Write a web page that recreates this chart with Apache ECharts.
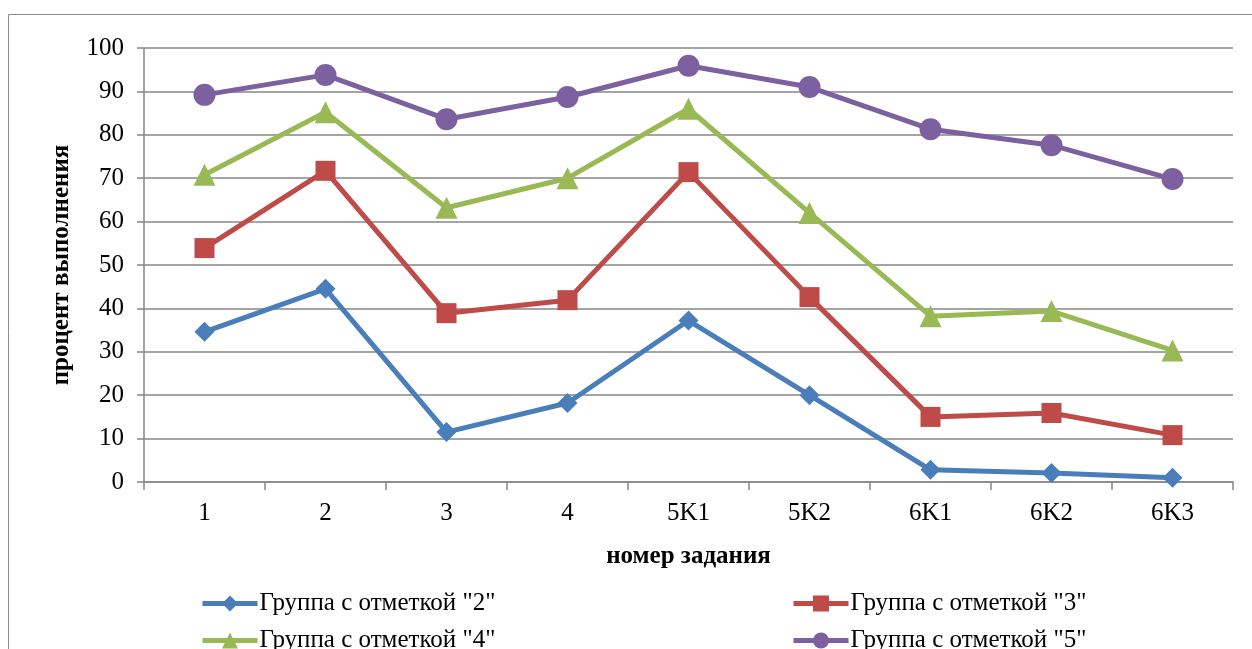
<!DOCTYPE html>
<html><head><meta charset="utf-8">
<script src="https://cdn.jsdelivr.net/npm/echarts@6/dist/echarts.min.js"></script>
<style>html,body{margin:0;padding:0;background:#fff}#c{width:1252px;height:649px}</style>
</head><body><div id="c"></div>
<script>
const categories = ['1','2','3','4','5K1','5K2','6K1','6K2','6K3'];
const yTicks = [0,10,20,30,40,50,60,70,80,90,100];
const seriesNames = ['Группа с отметкой "2"','Группа с отметкой "3"','Группа с отметкой "4"','Группа с отметкой "5"'];
const group2 = [34.6, 44.5, 11.5, 18.2, 37.2, 20.0, 2.8, 2.1, 1.0];
const group3 = [53.9, 71.7, 38.9, 41.9, 71.4, 42.6, 15.0, 15.9, 10.8];
const group4 = [70.8, 85.2, 63.2, 70.0, 86.0, 62.0, 38.2, 39.4, 30.3];
const group5 = [89.2, 93.8, 83.6, 88.7, 95.9, 91.0, 81.3, 77.6, 69.8];

const colors = ['#4A7EBB','#BE4B48','#98B954','#7D60A0'];
const symbols = ['diamond','rect','triangle','circle'];
const symbolSizes = [20, 20, 22, 22];
const datas = [group2, group3, group4, group5];
const font = '"Liberation Serif", "Times New Roman", serif';

const chart = echarts.init(document.getElementById('c'));
const legendPos = [[195,586],[786,586],[195,623],[786,623]];
chart.setOption({
  animation: false,
  backgroundColor: '#fff',
  graphic: [{type:'rect', shape:{x:8.5,y:14.5,width:1400,height:800}, style:{fill:'none', stroke:'#8c8c8c', lineWidth:1}, silent:true}],
  grid: {left:144, right:19, top:48, bottom:167},
  legend: seriesNames.map((n,i)=>({
    data:[n], left:legendPos[i][0], top:legendPos[i][1], itemWidth:55, itemHeight:20, itemGap:0,
    lineStyle:{width:5},
    textStyle:{fontFamily:font, fontSize:25, color:'#000', padding:[0,0,0,-3]}
  })),
  xAxis: {
    type:'category', data:categories, boundaryGap:true,
    name:'номер задания', nameLocation:'middle', nameGap:62,
    nameTextStyle:{fontFamily:font, fontSize:25, fontWeight:'bold', color:'#000'},
    axisLine:{lineStyle:{color:'#868686', width:1.5}},
    axisTick:{show:true, length:8, lineStyle:{color:'#868686', width:1.5}},
    axisLabel:{fontFamily:font, fontSize:25, color:'#000', margin:19}
  },
  yAxis: {
    type:'value', min:0, max:100, interval:10,
    name:'процент выполнения', nameLocation:'middle', nameGap:70, nameRotate:90,
    nameTextStyle:{fontFamily:font, fontSize:25, fontWeight:'bold', color:'#000'},
    axisLine:{show:true, lineStyle:{color:'#868686', width:1.5}},
    axisTick:{show:true, length:7, lineStyle:{color:'#868686', width:1.5}},
    axisLabel:{fontFamily:font, fontSize:25, color:'#000', margin:20},
    splitLine:{lineStyle:{color:'#868686', width:1.5}}
  },
  series: datas.map((d,i)=>({
    name:seriesNames[i], type:'line', data:d,
    symbol:symbols[i], symbolSize:symbolSizes[i],
    lineStyle:{color:colors[i], width:5},
    itemStyle:{color:colors[i]},
    z: 2+i
  }))
});
</script></body></html>
